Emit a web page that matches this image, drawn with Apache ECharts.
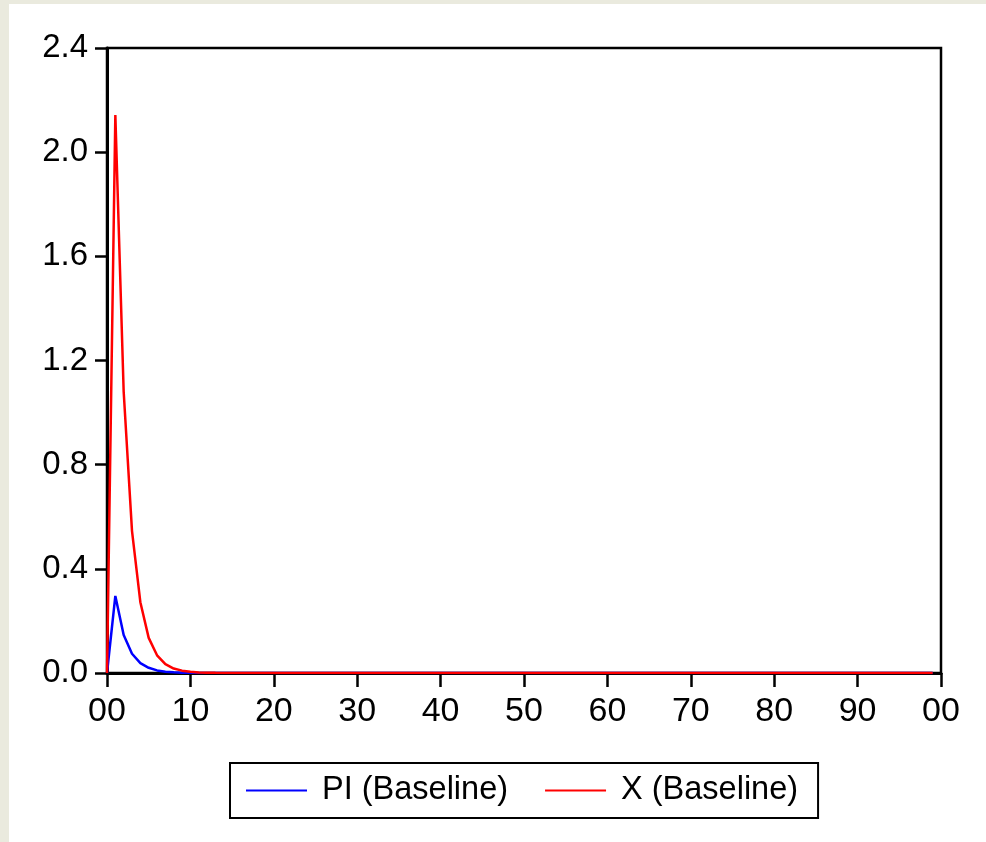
<!DOCTYPE html>
<html>
<head>
<meta charset="utf-8">
<script src="https://cdn.jsdelivr.net/npm/echarts@6/dist/echarts.min.js"></script>
<style>
  html, body { margin: 0; padding: 0; background: #eaeade; }
  #chart { position: absolute; left: 9px; top: 4px; width: 977px; height: 838px; background: #fff; }
</style>
</head>
<body>
<div id="chart"></div>
<script>
// periods 0..99
var periods = [];
for (var i = 0; i < 100; i++) periods.push(i);

var piValues = [
  0, 0.296, 0.146, 0.074, 0.038, 0.020, 0.010, 0.005, 0.0025, 0.0013,
  0.0006, 0.0003, 0.0002, 0.0001, 0, 0, 0, 0, 0, 0,
  0, 0, 0, 0, 0, 0, 0, 0, 0, 0,
  0, 0, 0, 0, 0, 0, 0, 0, 0, 0,
  0, 0, 0, 0, 0, 0, 0, 0, 0, 0,
  0, 0, 0, 0, 0, 0, 0, 0, 0, 0,
  0, 0, 0, 0, 0, 0, 0, 0, 0, 0,
  0, 0, 0, 0, 0, 0, 0, 0, 0, 0,
  0, 0, 0, 0, 0, 0, 0, 0, 0, 0,
  0, 0, 0, 0, 0, 0, 0, 0, 0, 0
];

var xValues = [
  0, 2.143, 1.08, 0.545, 0.272, 0.135, 0.068, 0.034, 0.017, 0.009,
  0.0045, 0.0023, 0.0012, 0.0006, 0.0003, 0.0002, 0.0001, 0, 0, 0,
  0, 0, 0, 0, 0, 0, 0, 0, 0, 0,
  0, 0, 0, 0, 0, 0, 0, 0, 0, 0,
  0, 0, 0, 0, 0, 0, 0, 0, 0, 0,
  0, 0, 0, 0, 0, 0, 0, 0, 0, 0,
  0, 0, 0, 0, 0, 0, 0, 0, 0, 0,
  0, 0, 0, 0, 0, 0, 0, 0, 0, 0,
  0, 0, 0, 0, 0, 0, 0, 0, 0, 0,
  0, 0, 0, 0, 0, 0, 0, 0, 0, 0
];

var xTickLabels = ['00', '10', '20', '30', '40', '50', '60', '70', '80', '90', '00'];
var yTickLabels = ['0.0', '0.4', '0.8', '1.2', '1.6', '2.0', '2.4'];

var font = "'Liberation Sans', Arial, sans-serif";

function pairs(vals) {
  return periods.map(function (p, i) { return [p, vals[i]]; });
}

var myChart = echarts.init(document.getElementById('chart'));
var option = {
  animation: false,
  grid: {
    left: 98,
    right: 45,
    top: 44,
    bottom: 169,
    show: true,
    borderColor: '#000',
    borderWidth: 2.5
  },
  xAxis: {
    type: 'value',
    min: 0,
    max: 100,
    interval: 10,
    axisLine: { show: true, lineStyle: { color: '#000', width: 3 } },
    axisTick: { show: true, inside: false, length: 14, lineStyle: { color: '#000', width: 2.5 } },
    axisLabel: {
      margin: 22,
      color: '#000',
      fontFamily: font,
      fontSize: 34,
      formatter: function (v) { return xTickLabels[Math.round(v / 10)]; }
    },
    splitLine: { show: false }
  },
  yAxis: {
    type: 'value',
    min: 0,
    max: 2.4,
    interval: 0.4,
    axisLine: { show: true, lineStyle: { color: '#000', width: 3 } },
    axisTick: { show: true, inside: false, length: 12, lineStyle: { color: '#000', width: 2.5 } },
    axisLabel: {
      margin: 19,
      color: '#000',
      fontFamily: font,
      fontSize: 33,
      formatter: function (v) { return yTickLabels[Math.round(v / 0.4)]; }
    },
    splitLine: { show: false }
  },
  legend: {
    left: 221,
    top: 759,
    orient: 'horizontal',
    icon: 'rect',
    itemWidth: 61,
    itemHeight: 2,
    itemGap: 37,
    borderColor: '#000',
    borderWidth: 2,
    borderRadius: 0,
    padding: [11, 20, 11, 16],
    textStyle: {
      color: '#000',
      fontFamily: font,
      fontSize: 32.5,
      padding: [0, 0, 0, 10]
    },
    data: ['PI (Baseline)', 'X (Baseline)']
  },
  series: [
    {
      name: 'PI (Baseline)',
      type: 'line',
      showSymbol: false,
      color: '#0000ff',
      lineStyle: { width: 2.5, color: '#0000ff' },
      data: pairs(piValues)
    },
    {
      name: 'X (Baseline)',
      type: 'line',
      showSymbol: false,
      color: '#ff0000',
      lineStyle: { width: 2.5, color: '#ff0000' },
      data: pairs(xValues)
    }
  ]
};
option && myChart.setOption(option);
</script>
</body>
</html>
